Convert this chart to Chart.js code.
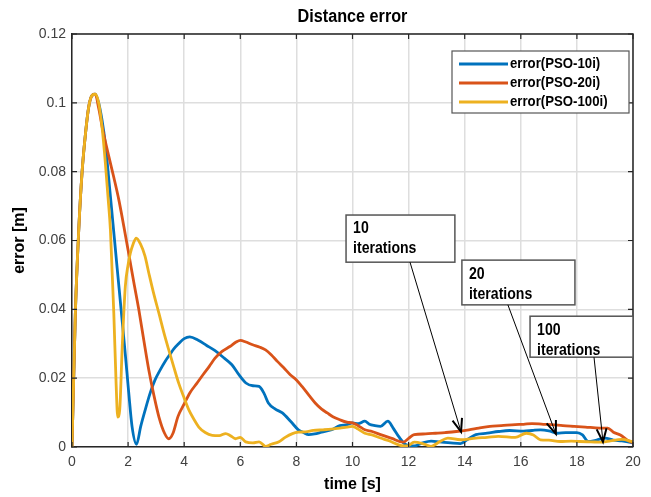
<!DOCTYPE html>
<html>
<head>
<meta charset="utf-8">
<script src="https://cdn.jsdelivr.net/npm/chart.js@4/dist/chart.umd.min.js"></script>
<style>
    body { margin: 0; background: #fff; }
    canvas { display: block; }
</style>
</head>
<body>
<canvas id="errChart" width="651" height="497"></canvas>
<script>
// values
let tBlue = [0, 0.12, 0.24, 0.36, 0.48, 0.6, 0.72, 0.83, 0.95, 1.07, 1.19, 1.31, 1.46, 1.61, 1.75, 1.9, 2.02, 2.14, 2.3, 2.45,
    2.6, 2.8, 2.96, 3.15, 3.33, 3.5, 3.63, 3.8, 4.0, 4.2, 4.5, 4.8, 5.1, 5.4, 5.7, 5.95, 6.2, 6.45, 6.67, 6.85,
    7.0, 7.25, 7.5, 7.8, 8.07, 8.25, 8.44, 8.65, 8.9, 9.26, 9.55, 9.8, 10.0, 10.2, 10.44, 10.6, 10.8, 11.0, 11.26, 11.45,
    11.65, 11.85, 12.2, 12.5, 12.8, 13.1, 13.5, 13.85, 14.1, 14.4, 14.8, 15.2, 15.6, 16.1, 16.4, 16.7, 17.0, 17.3, 17.6, 18.0,
    18.2, 18.4, 18.7, 19.0, 19.3, 19.6, 20.0];
let errBlue = [0, 0.039, 0.063, 0.08, 0.091, 0.099, 0.1022, 0.1025, 0.1, 0.095, 0.088, 0.078, 0.065, 0.052, 0.04, 0.027, 0.016, 0.006, 0.0008, 0.006,
    0.0105, 0.016, 0.0195, 0.0225, 0.025, 0.027, 0.0285, 0.03, 0.0315, 0.032, 0.031, 0.0295, 0.028, 0.026, 0.0239, 0.021, 0.0186, 0.0178, 0.0176, 0.0155,
    0.0128, 0.011, 0.0099, 0.0074, 0.005, 0.0042, 0.0036, 0.0038, 0.0043, 0.005, 0.0062, 0.0065, 0.007, 0.0068, 0.0075, 0.0066, 0.0062, 0.006, 0.0075, 0.0055,
    0.003, 0.001, 0.0003, 0.0012, 0.0017, 0.0015, 0.0012, 0.001, 0.0022, 0.0036, 0.004, 0.0045, 0.0048, 0.0046, 0.0048, 0.005, 0.0047, 0.004, 0.0042, 0.0042,
    0.0035, 0.0016, 0.002, 0.0026, 0.002, 0.0018, 0.0012];

let tRed = [0, 0.12, 0.24, 0.36, 0.48, 0.6, 0.72, 0.83, 0.95, 1.1, 1.31, 1.5, 1.67, 1.85, 2.02, 2.2, 2.38, 2.56, 2.74, 2.92,
    3.1, 3.3, 3.45, 3.6, 3.78, 4.0, 4.2, 4.45, 4.67, 4.9, 5.1, 5.35, 5.63, 5.85, 6.0, 6.2, 6.44, 6.7, 6.9, 7.1,
    7.33, 7.55, 7.78, 8.0, 8.2, 8.45, 8.67, 8.9, 9.1, 9.3, 9.55, 9.8, 10.0, 10.2, 10.44, 10.7, 11.0, 11.4, 11.8, 12.0,
    12.2, 12.6, 12.96, 13.3, 13.7, 14.15, 14.5, 14.9, 15.3, 15.8, 16.1, 16.4, 16.8, 17.1, 17.5, 17.9, 18.3, 18.8, 19.1, 19.3,
    19.55, 19.8, 20.0];
let errRed = [0, 0.039, 0.063, 0.08, 0.091, 0.099, 0.1022, 0.1025, 0.0985, 0.092, 0.0845, 0.078, 0.0718, 0.064, 0.0563, 0.048, 0.04, 0.031, 0.0223, 0.015,
    0.0087, 0.004, 0.0024, 0.004, 0.0089, 0.0125, 0.0157, 0.0185, 0.021, 0.0235, 0.0258, 0.0278, 0.0292, 0.0305, 0.031, 0.0305, 0.0297, 0.029, 0.0282, 0.0268,
    0.0248, 0.023, 0.021, 0.0195, 0.0176, 0.015, 0.0128, 0.011, 0.0099, 0.0088, 0.0079, 0.0072, 0.007, 0.0062, 0.005, 0.0045, 0.0036, 0.0025, 0.0014, 0.0025,
    0.0036, 0.0038, 0.004, 0.0042, 0.0045, 0.005, 0.0055, 0.006, 0.0062, 0.0065, 0.0066, 0.0068, 0.0066, 0.0065, 0.0062, 0.006, 0.0058, 0.0055, 0.0055, 0.0043,
    0.0035, 0.002, 0.0012];

let tYellow = [0, 0.12, 0.24, 0.36, 0.48, 0.6, 0.72, 0.83, 0.95, 1.07, 1.19, 1.28, 1.37, 1.43, 1.49, 1.57, 1.63, 1.7, 1.79, 1.9,
    2.0, 2.08, 2.18, 2.29, 2.44, 2.6, 2.74, 2.9, 3.1, 3.3, 3.45, 3.63, 3.81, 4.0, 4.17, 4.35, 4.52, 4.75, 5.0, 5.25,
    5.48, 5.65, 5.83, 6.0, 6.19, 6.45, 6.67, 6.9, 7.1, 7.38, 7.6, 7.86, 8.07, 8.33, 8.6, 8.96, 9.25, 9.55, 9.8, 10.0,
    10.2, 10.44, 10.7, 11.0, 11.3, 11.7, 11.95, 12.2, 12.5, 12.8, 13.1, 13.4, 13.85, 14.4, 14.8, 15.2, 15.8, 16.2, 16.45, 16.7,
    17.0, 17.4, 17.8, 18.1, 18.5, 18.9, 19.2, 19.6, 20.0];
let errYellow = [0, 0.039, 0.063, 0.08, 0.091, 0.099, 0.1022, 0.1025, 0.1, 0.093, 0.0825, 0.073, 0.063, 0.051, 0.039, 0.019, 0.0087, 0.0107, 0.029, 0.0466,
    0.053, 0.0563, 0.059, 0.0607, 0.059, 0.0555, 0.0505, 0.045, 0.0388, 0.0325, 0.0282, 0.0232, 0.0184, 0.0142, 0.0107, 0.008, 0.0058, 0.0042, 0.0034, 0.0033,
    0.0039, 0.0033, 0.0024, 0.0028, 0.0015, 0.0012, 0.0015, 0.0002, 0.0008, 0.0015, 0.0028, 0.0039, 0.0043, 0.0044, 0.0048, 0.005, 0.0052, 0.0055, 0.0058, 0.006,
    0.0052, 0.004, 0.0035, 0.0026, 0.0018, 0.0005, 0.0003, 0.0014, 0.001, 0.0002, 0.0015, 0.0026, 0.0021, 0.0026, 0.0028, 0.0031, 0.0028, 0.004, 0.0035, 0.0021,
    0.002, 0.0016, 0.0017, 0.0016, 0.0015, 0.0014, 0.0018, 0.0022, 0.0015];

let seriesLabels = ['error(PSO-10i)', 'error(PSO-20i)', 'error(PSO-100i)'];
let seriesColors = ['#0072BD', '#D95319', '#EDB120'];
let xTicks = [0, 2, 4, 6, 8, 10, 12, 14, 16, 18, 20];
let yTicks = [0, 0.02, 0.04, 0.06, 0.08, 0.1, 0.12];

// text boxes with arrows: box corners and arrow in data units
let notes = [
    { lines: ['10', 'iterations'], box: [9.77, 0.0674, 13.65, 0.0537], from: [12.05, 0.0537], to: [13.87, 0.0044] },
    { lines: ['20', 'iterations'], box: [13.9, 0.0543, 17.93, 0.0413], from: [15.54, 0.0413], to: [17.25, 0.0038] },
    { lines: ['100', 'iterations'], box: [16.33, 0.038, 20, 0.0261], from: [18.61, 0.0261], to: [18.93, 0.0015] }
];

const FONT = "'Liberation Sans', Arial, sans-serif";

function toPoints(ts, vs) {
    return ts.map((t, i) => ({ x: t, y: vs[i] }));
}

// matlab text looks a bit narrow, squeeze it horizontally
function narrowText(ctx, txt, x, y, sx) {
    ctx.save();
    ctx.translate(x, y);
    ctx.scale(sx, 1);
    ctx.fillText(txt, 0, 0);
    ctx.restore();
}

let decor = {
    id: 'decor',
    afterDraw(chart) {
        let ctx = chart.ctx;
        let a = chart.chartArea;
        let xs = chart.scales.x, ys = chart.scales.y;
        ctx.save();

        // box: top and right edges
        ctx.strokeStyle = '#262626';
        ctx.lineWidth = 1.5;
        ctx.beginPath();
        ctx.moveTo(a.left, a.top); ctx.lineTo(a.right, a.top); ctx.lineTo(a.right, a.bottom);
        ctx.stroke();

        // inward tick marks on all sides
        ctx.lineWidth = 1.2;
        ctx.beginPath();
        xTicks.forEach(v => {
            let px = xs.getPixelForValue(v);
            ctx.moveTo(px, a.bottom); ctx.lineTo(px, a.bottom - 5);
            ctx.moveTo(px, a.top); ctx.lineTo(px, a.top + 5);
        });
        yTicks.forEach(v => {
            let py = ys.getPixelForValue(v);
            ctx.moveTo(a.left, py); ctx.lineTo(a.left + 5, py);
            ctx.moveTo(a.right, py); ctx.lineTo(a.right - 5, py);
        });
        ctx.stroke();

        // title
        ctx.fillStyle = '#000';
        ctx.font = 'bold 18px ' + FONT;
        ctx.textAlign = 'center';
        ctx.textBaseline = 'middle';
        narrowText(ctx, 'Distance error', (a.left + a.right) / 2, 17, 0.9);

        // annotations
        notes.forEach(n => {
            let x1 = xs.getPixelForValue(n.box[0]), y1 = ys.getPixelForValue(n.box[1]);
            let x2 = xs.getPixelForValue(n.box[2]), y2 = ys.getPixelForValue(n.box[3]);
            ctx.fillStyle = '#fff';
            ctx.fillRect(x1, y1, x2 - x1, y2 - y1);
            ctx.strokeStyle = '#555';
            ctx.lineWidth = 1.5;
            ctx.strokeRect(x1, y1, x2 - x1, y2 - y1);
            ctx.fillStyle = '#000';
            ctx.font = 'bold 16px ' + FONT;
            ctx.textAlign = 'left';
            ctx.textBaseline = 'middle';
            narrowText(ctx, n.lines[0], x1 + 7, y1 + 14, 0.88);
            narrowText(ctx, n.lines[1], x1 + 7, y1 + 34, 0.88);

            let fx = xs.getPixelForValue(n.from[0]), fy = ys.getPixelForValue(n.from[1]);
            let tx = xs.getPixelForValue(n.to[0]), ty = ys.getPixelForValue(n.to[1]);
            ctx.strokeStyle = '#000';
            ctx.lineWidth = 1;
            ctx.beginPath();
            ctx.moveTo(fx, fy); ctx.lineTo(tx, ty);
            ctx.stroke();
            let ang = Math.atan2(ty - fy, tx - fx);
            let len = 14, spread = 0.36;
            ctx.lineWidth = 2;
            ctx.beginPath();
            ctx.moveTo(tx - len * Math.cos(ang - spread), ty - len * Math.sin(ang - spread));
            ctx.lineTo(tx, ty);
            ctx.lineTo(tx - len * Math.cos(ang + spread), ty - len * Math.sin(ang + spread));
            ctx.stroke();
        });

        // legend
        let lx = 452, ly = 51, lw = 177, lh = 62;
        ctx.fillStyle = '#fff';
        ctx.fillRect(lx, ly, lw, lh);
        ctx.strokeStyle = '#555';
        ctx.lineWidth = 1.2;
        ctx.strokeRect(lx, ly, lw, lh);
        ctx.font = 'bold 15px ' + FONT;
        ctx.textAlign = 'left';
        ctx.textBaseline = 'middle';
        seriesLabels.forEach((lab, i) => {
            let yy = ly + 13 + i * 19;
            ctx.strokeStyle = seriesColors[i];
            ctx.lineWidth = 3;
            ctx.beginPath();
            ctx.moveTo(lx + 7, yy); ctx.lineTo(lx + 56, yy);
            ctx.stroke();
            ctx.fillStyle = '#000';
            narrowText(ctx, lab, lx + 58, yy, 0.88);
        });
        ctx.restore();
    }
};

let seriesT = [tBlue, tRed, tYellow];
let seriesV = [errBlue, errRed, errYellow];

let datasets = seriesLabels.map((lab, i) => ({
    label: lab,
    data: toPoints(seriesT[i], seriesV[i]),
    borderColor: seriesColors[i],
    borderWidth: 2.8,
    pointRadius: 0,
    fill: false,
    cubicInterpolationMode: 'monotone',
    order: 3 - i
}));

new Chart(document.getElementById('errChart'), {
    type: 'line',
    data: { datasets },
    options: {
        responsive: false,
        animation: false,
        layout: { padding: { left: 8, right: 18, top: 34, bottom: 0 } },
        plugins: { legend: { display: false }, tooltip: { enabled: false } },
        scales: {
            x: {
                type: 'linear',
                min: 0, max: 20,
                afterFit: s => { s.height = 50; },
                afterBuildTicks: s => { s.ticks = xTicks.map(v => ({ value: v })); },
                ticks: { color: '#404040', font: { family: FONT, size: 14 }, padding: 7, maxRotation: 0 },
                grid: { color: '#dedede', lineWidth: 1.5, drawTicks: false },
                border: { display: true, color: '#262626', width: 1.5 },
                title: { display: true, text: 'time [s]', color: '#000', font: { family: FONT, size: 16, weight: 'bold' }, padding: { top: 2, bottom: 3 } }
            },
            y: {
                min: 0, max: 0.12,
                afterFit: s => { s.width = 64; },
                afterBuildTicks: s => { s.ticks = yTicks.map(v => ({ value: v })); },
                ticks: {
                    color: '#404040', font: { family: FONT, size: 14 }, padding: 6,
                    callback: v => String(+v.toFixed(2))
                },
                grid: { color: '#dedede', lineWidth: 1.5, drawTicks: false },
                border: { display: true, color: '#262626', width: 1.5 },
                title: { display: true, text: 'error [m]', color: '#000', font: { family: FONT, size: 16, weight: 'bold' }, padding: { top: 2, bottom: 2 } }
            }
        }
    },
    plugins: [decor]
});
</script>
</body>
</html>
